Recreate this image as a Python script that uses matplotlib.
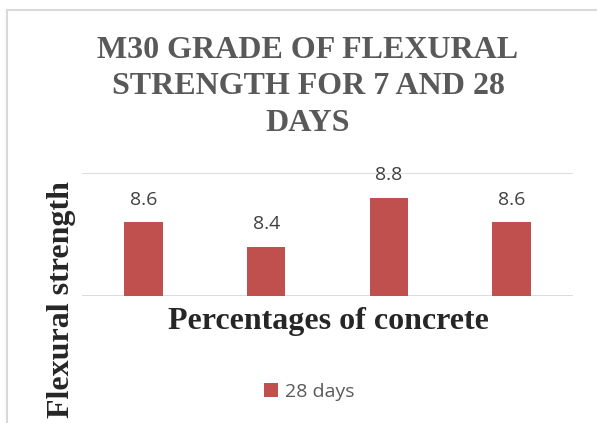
import matplotlib
matplotlib.use("Agg")
from matplotlib import pyplot as plt
from matplotlib.lines import Line2D

# ----------------------
# Data
# ----------------------
categories = ["1", "2", "3", "4"]
strength_28 = [8.6, 8.4, 8.8, 8.6]
value_labels = ["8.6", "8.4", "8.8", "8.6"]
series_name = "28 days"

title = "M30 GRADE OF FLEXURAL\nSTRENGTH FOR 7 AND 28\nDAYS"
xlabel = "Percentages of concrete"
ylabel = "Flexural strength"

bar_color = "#C0504D"
grid_color = "#D9D9D9"
serif = "Liberation Serif"
sans = "Open Sans"

W, H = 597, 423
fig = plt.figure(figsize=(W / 100, H / 100), dpi=100)
ax = fig.add_axes([82 / W, 1 - 295.7 / H, 491 / W, 122.4 / H])

x = range(len(categories))
bars = ax.bar(x, strength_28, width=0.314, color=bar_color,
              label=series_name, zorder=3)
ax.set_ylim(8.0, 9.0)
ax.set_xlim(-0.5, len(categories) - 0.5)
ax.set_yticks([8.0, 9.0])
ax.yaxis.grid(True, color=grid_color, lw=1.3, zorder=0)
ax.tick_params(left=False, bottom=False, labelleft=False, labelbottom=False)
for s in ax.spines.values():
    s.set_visible(False)

for xi, v, lab in zip(x, strength_28, value_labels):
    ax.annotate(lab, (xi, v), xytext=(0, 12.7), textcoords="offset points",
                ha="center", va="baseline", fontsize=14, color="#404040",
                family=sans, zorder=4, annotation_clip=False)

# Title and axis titles
fig.text(308 / W, 1 - 87 / H, title, ha="center", va="center",
         family=serif, weight="bold", fontsize=23, color="#595959",
         linespacing=1.36)
fig.text(328 / W, 1 - 321 / H, xlabel, ha="center", va="center",
         family=serif, weight="bold", fontsize=23, color="#262626")
fig.text(62 / W, 1 - 300 / H, ylabel, ha="center", va="center",
         rotation=90, family=serif, weight="bold", fontsize=23,
         color="#262626")

# Legend
fig.legend(handles=[bars], labels=[series_name], loc="center",
           bbox_to_anchor=(309 / W, 1 - 392 / H), frameon=False,
           handlelength=0.75, handleheight=0.75, handletextpad=0.35,
           prop={"family": sans, "size": 14}, labelcolor="#595959")

# Chart border (top and left edges visible)
fig.add_artist(Line2D([7.3 / W, 1], [1 - 10 / H, 1 - 10 / H],
                      transform=fig.transFigure, color=grid_color, lw=1.5))
fig.add_artist(Line2D([7.3 / W, 7.3 / W], [0, 1 - 10 / H],
                      transform=fig.transFigure, color=grid_color, lw=1.5))

fig.savefig("out.png", dpi=100)
